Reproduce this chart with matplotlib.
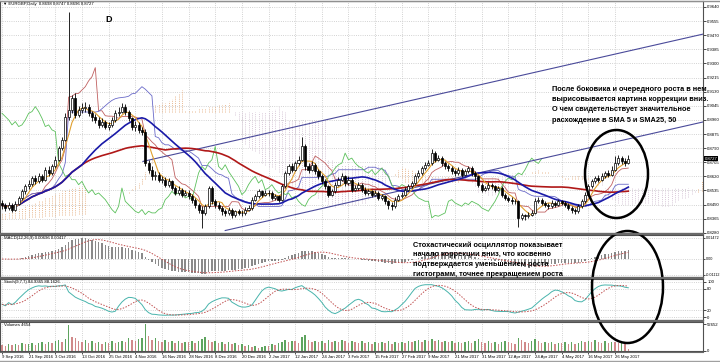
import numpy as np
import pandas as pd
import matplotlib
matplotlib.use("Agg")
import matplotlib.pyplot as plt
from matplotlib.patches import Ellipse

plt.rcParams['font.family'] = ['Liberation Sans', 'DejaVu Sans']

# ----------------------- data (EURGBP daily) -----------------------
first_open = 0.8460
closes = [
    0.8445, 0.8430, 0.8450, 0.8420, 0.8455, 0.8490, 0.8530, 0.8560,
    0.8575, 0.8610, 0.8590, 0.8620, 0.8600, 0.8660, 0.8640, 0.8680,
    0.8720, 0.8790, 0.8840, 0.8980, 0.9020, 0.9090, 0.8990, 0.9020,
    0.9030, 0.9040, 0.9000, 0.8980, 0.8960, 0.8930, 0.8950, 0.8920,
    0.8930, 0.8960, 0.9000, 0.9010, 0.9040, 0.9010, 0.8970, 0.8920,
    0.8930, 0.8900, 0.8890, 0.8700, 0.8660, 0.8620, 0.8630, 0.8600,
    0.8600, 0.8570, 0.8590, 0.8550, 0.8520, 0.8540, 0.8510, 0.8520,
    0.8500, 0.8480, 0.8450, 0.8420, 0.8400, 0.8440, 0.8550, 0.8470,
    0.8450, 0.8430, 0.8410, 0.8400, 0.8420, 0.8390, 0.8410, 0.8400,
    0.8400, 0.8420, 0.8430, 0.8480, 0.8500, 0.8530, 0.8510, 0.8520,
    0.8520, 0.8490, 0.8500, 0.8480, 0.8560, 0.8640, 0.8680, 0.8660,
    0.8700, 0.8720, 0.8800, 0.8680, 0.8660, 0.8690, 0.8650, 0.8620,
    0.8590, 0.8560, 0.8510, 0.8530, 0.8570, 0.8600, 0.8620, 0.8580,
    0.8600, 0.8540, 0.8550, 0.8570, 0.8540, 0.8520, 0.8530, 0.8510,
    0.8520, 0.8490, 0.8500, 0.8470, 0.8450, 0.8440, 0.8480, 0.8500,
    0.8510, 0.8540, 0.8560, 0.8580, 0.8620, 0.8640, 0.8670, 0.8690,
    0.8700, 0.8760, 0.8720, 0.8730, 0.8700, 0.8680, 0.8670, 0.8650,
    0.8640, 0.8660, 0.8630, 0.8650, 0.8670, 0.8640, 0.8620, 0.8570,
    0.8540, 0.8550, 0.8570, 0.8560, 0.8540, 0.8550, 0.8510, 0.8490,
    0.8480, 0.8470, 0.8470, 0.8370, 0.8385, 0.8380, 0.8390, 0.8400,
    0.8470, 0.8480, 0.8460, 0.8450, 0.8440, 0.8460, 0.8450, 0.8470,
    0.8460, 0.8450, 0.8430, 0.8420, 0.8410, 0.8440, 0.8470, 0.8510,
    0.8560, 0.8590, 0.8610, 0.8600, 0.8620, 0.8640, 0.8630, 0.8660,
    0.8700, 0.8730, 0.8710, 0.8698, 0.8727,
]
highs = [
    0.8480, 0.8460, 0.8465, 0.8462, 0.8470, 0.8500, 0.8545, 0.8575,
    0.8600, 0.8625, 0.8630, 0.8640, 0.8635, 0.8675, 0.8680, 0.8695,
    0.8740, 0.8805, 0.8860, 0.9000, 0.9610, 0.9110, 0.9120, 0.9045,
    0.9060, 0.9065, 0.9055, 0.9015, 0.8995, 0.8975, 0.8970, 0.8960,
    0.8950, 0.8975, 0.9020, 0.9040, 0.9060, 0.9055, 0.9020, 0.8980,
    0.8955, 0.8945, 0.8920, 0.8905, 0.8720, 0.8680, 0.8655, 0.8645,
    0.8625, 0.8615, 0.8610, 0.8600, 0.8565, 0.8560, 0.8550, 0.8540,
    0.8535, 0.8515, 0.8490, 0.8460, 0.8440, 0.8455, 0.8565, 0.8560,
    0.8485, 0.8465, 0.8440, 0.8425, 0.8435, 0.8430, 0.8420, 0.8425,
    0.8418, 0.8435, 0.8450, 0.8495, 0.8515, 0.8545, 0.8540, 0.8535,
    0.8540, 0.8530, 0.8515, 0.8510, 0.8575, 0.8655, 0.8695, 0.8700,
    0.8715, 0.8740, 0.8855, 0.8815, 0.8700, 0.8710, 0.8700, 0.8665,
    0.8635, 0.8605, 0.8570, 0.8545, 0.8585, 0.8615, 0.8640, 0.8630,
    0.8620, 0.8610, 0.8570, 0.8585, 0.8580, 0.8555, 0.8545, 0.8540,
    0.8535, 0.8530, 0.8515, 0.8510, 0.8480, 0.8465, 0.8495, 0.8515,
    0.8525, 0.8555, 0.8575, 0.8595, 0.8635, 0.8660, 0.8685, 0.8705,
    0.8720, 0.8785, 0.8770, 0.8750, 0.8740, 0.8715, 0.8695, 0.8685,
    0.8665, 0.8675, 0.8670, 0.8665, 0.8685, 0.8680, 0.8655, 0.8630,
    0.8580, 0.8565, 0.8585, 0.8580, 0.8570, 0.8565, 0.8560, 0.8520,
    0.8500, 0.8495, 0.8485, 0.8480, 0.8400, 0.8395, 0.8405, 0.8415,
    0.8490, 0.8495, 0.8490, 0.8470, 0.8460, 0.8475, 0.8470, 0.8485,
    0.8480, 0.8470, 0.8460, 0.8440, 0.8430, 0.8455, 0.8485, 0.8525,
    0.8575, 0.8605, 0.8625, 0.8630, 0.8640, 0.8655, 0.8660, 0.8680,
    0.8745, 0.8750, 0.8745, 0.8730, 0.8747,
]
lows = [
    0.8425, 0.8410, 0.8420, 0.8405, 0.8412, 0.8445, 0.8480, 0.8515,
    0.8545, 0.8565, 0.8575, 0.8580, 0.8585, 0.8595, 0.8625, 0.8630,
    0.8670, 0.8710, 0.8780, 0.8830, 0.8960, 0.9000, 0.8970, 0.8975,
    0.9000, 0.9010, 0.8985, 0.8955, 0.8940, 0.8910, 0.8915, 0.8905,
    0.8900, 0.8915, 0.8950, 0.8985, 0.9000, 0.8990, 0.8955, 0.8900,
    0.8895, 0.8880, 0.8870, 0.8680, 0.8640, 0.8600, 0.8600, 0.8585,
    0.8580, 0.8555, 0.8555, 0.8535, 0.8505, 0.8510, 0.8495, 0.8500,
    0.8485, 0.8460, 0.8430, 0.8400, 0.8312, 0.8390, 0.8430, 0.8455,
    0.8430, 0.8415, 0.8390, 0.8380, 0.8385, 0.8370, 0.8375, 0.8385,
    0.8380, 0.8390, 0.8410, 0.8420, 0.8470, 0.8490, 0.8495, 0.8500,
    0.8500, 0.8475, 0.8480, 0.8465, 0.8470, 0.8550, 0.8630, 0.8645,
    0.8650, 0.8690, 0.8710, 0.8660, 0.8640, 0.8650, 0.8635, 0.8605,
    0.8575, 0.8545, 0.8495, 0.8500, 0.8520, 0.8560, 0.8590, 0.8565,
    0.8570, 0.8525, 0.8530, 0.8540, 0.8525, 0.8505, 0.8510, 0.8495,
    0.8500, 0.8475, 0.8480, 0.8455, 0.8425, 0.8420, 0.8430, 0.8470,
    0.8490, 0.8500, 0.8530, 0.8550, 0.8570, 0.8610, 0.8630, 0.8660,
    0.8680, 0.8690, 0.8705, 0.8710, 0.8685, 0.8665, 0.8655, 0.8635,
    0.8625, 0.8630, 0.8615, 0.8620, 0.8640, 0.8625, 0.8600, 0.8555,
    0.8525, 0.8530, 0.8540, 0.8545, 0.8525, 0.8530, 0.8495, 0.8475,
    0.8465, 0.8455, 0.8455, 0.8315, 0.8355, 0.8360, 0.8370, 0.8380,
    0.8395, 0.8460, 0.8445, 0.8435, 0.8425, 0.8430, 0.8435, 0.8440,
    0.8445, 0.8435, 0.8415, 0.8400, 0.8395, 0.8400, 0.8430, 0.8460,
    0.8500, 0.8550, 0.8580, 0.8585, 0.8590, 0.8610, 0.8615, 0.8620,
    0.8650, 0.8690, 0.8695, 0.8680, 0.8696,
]
# tick volume, thousands
volumes_k = [
    12, 9, 13, 11, 14, 12, 15, 13,
    14, 16, 12, 15, 17, 14, 18, 16,
    19, 22, 17, 24, 50, 28, 25, 20,
    18, 21, 16, 19, 15, 17, 14, 18,
    16, 19, 15, 17, 20, 18, 25, 21,
    19, 23, 26, 52.652, 30, 22, 25, 20,
    18, 21, 17, 20, 16, 19, 15, 18,
    17, 20, 16, 19, 24, 28, 22, 18,
    20, 16, 18, 14, 17, 13, 15, 12,
    14, 10, 12, 8, 9, 6, 7, 10,
    9, 14, 12, 16, 18, 21, 17, 20,
    19, 16, 27, 32, 22, 18, 20, 17,
    19, 16, 21, 18, 20, 17, 22, 19,
    16, 20, 17, 15, 19, 16, 18, 14,
    17, 15, 18, 16, 19, 14, 17, 15,
    18, 16, 20, 17, 19, 21, 18, 22,
    20, 24, 19, 22, 18, 20, 17, 19,
    16, 18, 15, 17, 19, 16, 20, 23,
    18, 16, 19, 15, 17, 14, 18, 20,
    17, 15, 14, 26, 21, 18, 16, 19,
    24, 19, 16, 18, 15, 17, 14, 16,
    15, 18, 14, 17, 13, 16, 19, 17,
    20, 18, 21, 17, 15, 19, 16, 18,
    17, 15, 16, 13, 4.654,
]
# Ichimoku cloud for the first 26 bars (comes from history left of the screen)
senkou_a_pre = [0.8400, 0.8402, 0.8408, 0.8412, 0.8420, 0.8424, 0.8430, 0.8441,
                0.8450, 0.8453, 0.8462, 0.8470, 0.8478, 0.8490, 0.8498, 0.8505,
                0.8512, 0.8520, 0.8531, 0.8538, 0.8545, 0.8550, 0.8556, 0.8560,
                0.8562, 0.8565]
senkou_b_pre = [0.8365, 0.8365, 0.8368, 0.8368, 0.8370, 0.8370, 0.8372, 0.8372,
                0.8375, 0.8375, 0.8375, 0.8378, 0.8378, 0.8380, 0.8380, 0.8380,
                0.8382, 0.8385, 0.8385, 0.8385, 0.8388, 0.8390, 0.8390, 0.8392,
                0.8395, 0.8395]

date_labels = ["9 Sep 2016", "21 Sep 2016", "3 Oct 2016", "13 Oct 2016", "25 Oct 2016",
               "4 Nov 2016", "16 Nov 2016", "28 Nov 2016", "8 Dec 2016", "20 Dec 2016",
               "2 Jan 2017", "12 Jan 2017", "24 Jan 2017", "3 Feb 2017", "15 Feb 2017",
               "27 Feb 2017", "9 Mar 2017", "21 Mar 2017", "31 Mar 2017", "12 Apr 2017",
               "24 Apr 2017", "4 May 2017", "16 May 2017", "26 May 2017"]
price_labels = ["0.8280", "0.8365", "0.8450", "0.8535", "0.8620", "0.8705", "0.8790",
                "0.8875", "0.8960", "0.9045", "0.9130", "0.9215", "0.9300", "0.9385",
                "0.9470", "0.9555", "0.9640"]
macd_labels = ["0.01472", "0.00", "-0.01112"]
stoch_labels = ["100", "80", "20", "0"]
vol_labels = ["52652", "0"]

# channel trend lines (bar, price)
channel_upper = [(42.3, 0.8710), (210.5, 0.9477)]
channel_lower = [(67.0, 0.8294), (210.5, 0.8948)]

note_main = ["После боковика и очередного роста в нем",
             "вырисовывается картина коррекции вниз.",
             "О чем свидетельствует значительное",
             "расхождение в SMA 5 и SMA25, 50"]
note_macd = ["Стохастический осциллятор показывает",
             "начало коррекции вниз, что косвенно",
             "подтверждается уменьшением роста",
             "гистограмм, точнее прекращением роста"]

# ----------------------- indicators -----------------------
c = pd.Series(closes)
h = pd.Series(highs)
l = pd.Series(lows)
o = c.shift(1)
o.iloc[0] = first_open
n = len(c)
x = np.arange(n)

sma5 = c.rolling(5, min_periods=1).mean()
sma25 = c.rolling(25, min_periods=1).mean()
sma50 = c.rolling(50, min_periods=1).mean()

tenkan = (h.rolling(9, min_periods=1).max() + l.rolling(9, min_periods=1).min()) / 2
kijun = (h.rolling(26, min_periods=1).max() + l.rolling(26, min_periods=1).min()) / 2
span_a = np.r_[senkou_a_pre, ((tenkan + kijun) / 2).values]
span_b = np.r_[senkou_b_pre,
               ((h.rolling(52, min_periods=1).max() + l.rolling(52, min_periods=1).min()) / 2).values]
x_cloud = np.arange(len(span_a))

ema12 = c.ewm(span=12, adjust=False).mean()
ema26 = c.ewm(span=26, adjust=False).mean()
macd = ema12 - ema26
signal = macd.rolling(9, min_periods=1).mean()

k_period, slowing, d_period = 9, 7, 7
llk = l.rolling(k_period, min_periods=1).min()
hhk = h.rolling(k_period, min_periods=1).max()
st_k = ((c - llk).rolling(slowing, min_periods=1).sum()
        / (hhk - llk).rolling(slowing, min_periods=1).sum() * 100)
st_d = st_k.rolling(d_period, min_periods=1).mean()

vol = pd.Series(volumes_k) * 1000
vol_col = np.where(vol > vol.shift(1), '#5fa45f', '#d08a8a')

# ----------------------- layout -----------------------
W, H = 720, 362
fig = plt.figure(figsize=(W / 100, H / 100), dpi=100)
fig.patch.set_facecolor('white')

px_bar = 613 / 184
x_left = -2 / px_bar
x_right = x_left + 703 / px_bar
tick_pos = np.arange(0, 8 * len(date_labels), 8)
grid_kw = dict(color='#c4c4c4', linestyle=':', linewidth=0.6)
lab_fs = 3.1


def pane(top, bottom):
    a = fig.add_axes([0, (H - bottom) / H, 703 / W, (bottom - top) / H])
    a.set_xlim(x_left, x_right)
    a.yaxis.tick_right()
    a.tick_params(axis='y', labelsize=lab_fs, length=2, pad=1, width=0.5)
    a.tick_params(axis='x', length=0, labelbottom=False)
    a.set_xticks(tick_pos)
    a.grid(True, **grid_kw)
    a.set_axisbelow(True)
    for s in a.spines.values():
        s.set_color('#505050')
        s.set_linewidth(0.8)
    return a


ax = pane(1, 233)
ax_macd = pane(235, 277)
ax_st = pane(279, 320)
ax_vol = pane(322, 351)

# ----------------------- main pane -----------------------
ax.set_ylim(0.8279, 0.9676)
ax.set_yticks([float(p) for p in price_labels])
ax.set_yticklabels(price_labels)

# cloud as dotted vertical hatch
cloud_col = np.where(span_a >= span_b, '#e8b890', '#d8c8d8')
ax.vlines(x_cloud, np.minimum(span_a, span_b), np.maximum(span_a, span_b),
          colors=cloud_col, linestyles=(0, (1, 1.2)), linewidth=0.7, zorder=1)

ax.plot(x, tenkan, color='#c06060', lw=0.6, zorder=2)
ax.plot(x, kijun, color='#6a6ac8', lw=0.6, zorder=2)
ax.plot(x[:-26], c.values[26:], color='#5cc05c', lw=0.6, zorder=2)

ax.plot([p[0] for p in channel_upper], [p[1] for p in channel_upper], color='#4a4a9a', lw=0.8, zorder=2)
ax.plot([p[0] for p in channel_lower], [p[1] for p in channel_lower], color='#4a4a9a', lw=0.8, zorder=2)

ax.plot(x, sma50, color='#b01818', lw=1.2, zorder=3)
ax.plot(x, sma25, color='#1a1aa8', lw=1.2, zorder=3)
ax.plot(x, sma5, color='#e0a030', lw=0.8, zorder=3)

up = (c >= o).values
body_lo = np.minimum(o, c)
body_h = np.maximum(np.abs(c - o), 0.00012)
ax.vlines(x, l, h, color='black', lw=0.6, zorder=4)
ax.bar(x, body_h, bottom=body_lo, width=0.62, color=np.where(up, 'white', 'black'),
       edgecolor='black', linewidth=0.5, zorder=5)

ax.text(1.002, closes[-1], f"{closes[-1]:.4f}", transform=ax.get_yaxis_transform(),
        fontsize=lab_fs, color='white', va='center', ha='left',
        bbox=dict(boxstyle='square,pad=0.15', fc='black', ec='none'), zorder=6, clip_on=False)

# ----------------------- MACD -----------------------
ax_macd.set_ylim(-0.01262, 0.01682)
ax_macd.set_yticks([float(v) for v in macd_labels])
ax_macd.set_yticklabels(macd_labels)
ax_macd.tick_params(axis='y', labelsize=2.7, pad=0.5, length=1.5)
ax_macd.bar(x, macd, width=0.45, color='#8a8a8a', zorder=2)
ax_macd.plot(x, signal, color='#c05050', lw=0.7, linestyle=(0, (1.5, 1.5)), zorder=3)

# ----------------------- Stochastic -----------------------
ax_st.set_ylim(-8.57, 108.57)
ax_st.set_yticks([float(v) for v in stoch_labels])
ax_st.set_yticklabels(stoch_labels)
ax_st.plot(x, st_k, color='#48b4ac', lw=0.7, zorder=3)
ax_st.plot(x, st_d, color='#c05050', lw=0.7, linestyle=(0, (1.5, 1.5)), zorder=3)

# ----------------------- Volumes -----------------------
ax_vol.set_ylim(0, 56553)
ax_vol.set_yticks([float(v) for v in vol_labels])
ax_vol.set_yticklabels(vol_labels)
ax_vol.grid(True, axis='x', **grid_kw)
ax_vol.grid(False, axis='y')
ax_vol.bar(x, vol, width=0.45, color=vol_col, zorder=2)
ax_vol.tick_params(axis='x', labelbottom=True, labelsize=lab_fs, length=2, width=0.5, pad=1)
ax_vol.set_xticklabels(date_labels, ha='left')

# ----------------------- overlay: titles, notes, ellipses -----------------------
ov = fig.add_axes([0, 0, 1, 1], zorder=10)
ov.set_xlim(0, W)
ov.set_ylim(H, 0)
ov.axis('off')
ov.patch.set_alpha(0)

ov.text(3, 3.5, "▼ EURGBP,Daily  0.8698 0.8747 0.8696 0.8727", fontsize=lab_fs, va='center')
ov.text(4, 238.5, "MACD(12,26,9) 0.00696 0.00417", fontsize=lab_fs, va='center')
ov.text(4, 282.5, f"Stoch({k_period},{slowing},{d_period}) 84.9365 88.1626", fontsize=lab_fs, va='center')
ov.text(4, 325.5, "Volumes 4654", fontsize=lab_fs, va='center')
ov.text(105, 19.5, "D", fontsize=6.5, fontweight='bold', va='center')

for i, line in enumerate(note_main):
    ov.text(552, 89 + i * 10.4, line, fontsize=5.3, fontweight='bold', va='center')
for i, line in enumerate(note_macd):
    ov.text(413, 245 + i * 9.7, line, fontsize=5.3, fontweight='bold', va='center')

ov.add_patch(Ellipse((616.5, 174), 63, 88, fill=False, ec='black', lw=1.8))
ov.add_patch(Ellipse((627.5, 287), 71, 112, fill=False, ec='black', lw=1.8))

# pane separators
for yy in (234, 278, 321):
    ov.plot([0, 703], [yy, yy], color='#6a6a6a', lw=1.6)
ov.plot([0, W], [0.5, 0.5], color='#909090', lw=1)
ov.plot([0, 703], [351.5, 351.5], color='#6a6a6a', lw=0.8)
ov.plot([0, W], [361, 361], color='#a0a0a0', lw=1)

fig.savefig("out.png", dpi=100, facecolor='white')
